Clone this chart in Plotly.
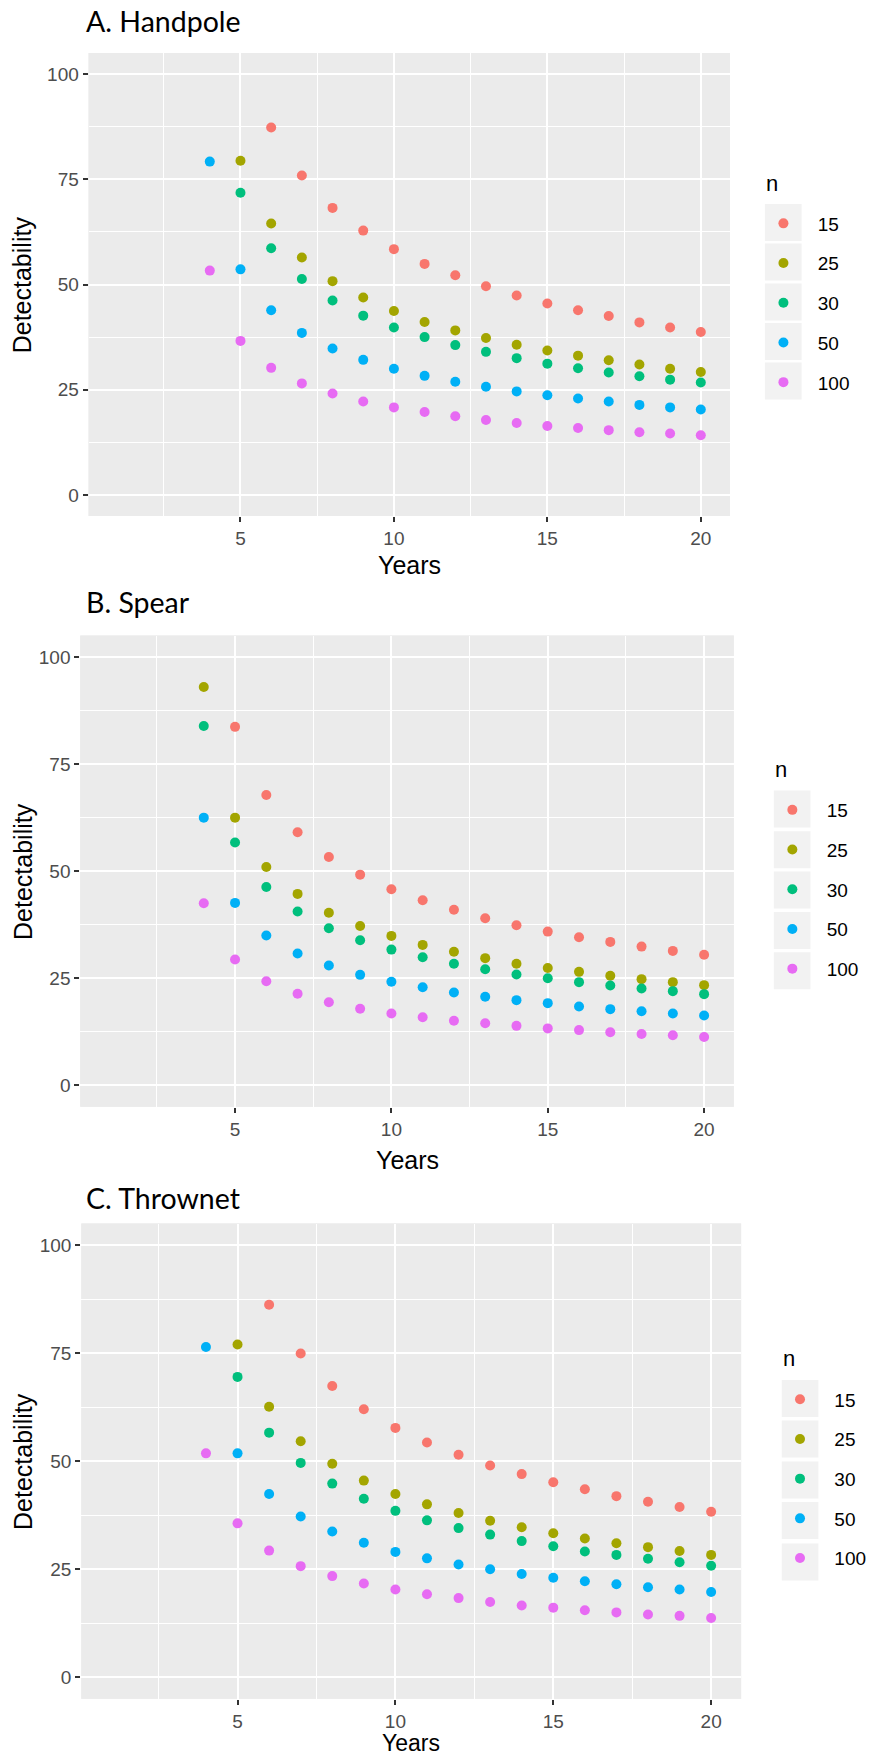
import plotly.graph_objects as go

W, H = 872, 1758

n_levels = ["15", "25", "30", "50", "100"]
colors = ["#F8766D", "#A3A500", "#00BF7D", "#00B0F6", "#E76BF3"]

# Detectability values, years 4..20 (None = no point)
years_obs = list(range(4, 21))

handpole_15 = [None, None, 87.3, 75.9, 68.2, 62.8, 58.4, 54.9, 52.2, 49.6, 47.4, 45.5, 43.9, 42.5, 41.0, 39.8, 38.7]
handpole_25 = [None, 79.4, 64.5, 56.4, 50.8, 46.9, 43.7, 41.1, 39.1, 37.3, 35.7, 34.3, 33.1, 32.0, 31.0, 30.0, 29.2]
handpole_30 = [None, 71.8, 58.6, 51.3, 46.2, 42.6, 39.8, 37.5, 35.6, 34.0, 32.5, 31.2, 30.1, 29.1, 28.2, 27.4, 26.7]
handpole_50 = [79.2, 53.6, 43.9, 38.5, 34.8, 32.1, 30.0, 28.3, 26.9, 25.7, 24.6, 23.7, 22.9, 22.2, 21.4, 20.8, 20.3]
handpole_100 = [53.3, 36.6, 30.2, 26.5, 24.1, 22.2, 20.8, 19.7, 18.7, 17.8, 17.1, 16.4, 15.9, 15.4, 14.9, 14.6, 14.2]

spear_15 = [None, 83.7, 67.8, 59.1, 53.3, 49.2, 45.8, 43.2, 41.0, 39.0, 37.4, 35.9, 34.6, 33.5, 32.4, 31.4, 30.5]
spear_25 = [93.0, 62.5, 51.0, 44.7, 40.3, 37.2, 34.9, 32.8, 31.2, 29.7, 28.4, 27.4, 26.5, 25.6, 24.8, 24.1, 23.4]
spear_30 = [83.9, 56.7, 46.3, 40.6, 36.7, 33.9, 31.7, 29.9, 28.4, 27.1, 25.9, 25.0, 24.1, 23.3, 22.6, 22.0, 21.3]
spear_50 = [62.5, 42.6, 35.0, 30.8, 28.0, 25.8, 24.2, 22.9, 21.7, 20.7, 19.9, 19.2, 18.4, 17.8, 17.3, 16.8, 16.3]
spear_100 = [42.5, 29.4, 24.3, 21.4, 19.4, 17.9, 16.8, 15.9, 15.1, 14.5, 13.9, 13.3, 12.9, 12.4, 12.0, 11.7, 11.3]

thrownet_15 = [None, None, 86.2, 74.9, 67.4, 62.0, 57.7, 54.3, 51.5, 49.0, 47.0, 45.1, 43.5, 41.9, 40.6, 39.4, 38.3]
thrownet_25 = [None, 77.0, 62.6, 54.6, 49.4, 45.5, 42.4, 40.0, 38.0, 36.2, 34.7, 33.3, 32.1, 31.0, 30.1, 29.2, 28.3]
thrownet_30 = [None, 69.5, 56.6, 49.6, 44.8, 41.3, 38.5, 36.3, 34.5, 33.0, 31.5, 30.3, 29.1, 28.3, 27.4, 26.6, 25.8]
thrownet_50 = [76.4, 51.8, 42.4, 37.2, 33.7, 31.1, 29.0, 27.5, 26.1, 25.0, 23.9, 23.0, 22.2, 21.5, 20.8, 20.3, 19.7]
thrownet_100 = [51.8, 35.6, 29.3, 25.7, 23.4, 21.7, 20.3, 19.2, 18.3, 17.4, 16.6, 16.1, 15.5, 15.0, 14.5, 14.2, 13.7]

panel_titles = ["A. Handpole", "B. Spear", "C. Thrownet"]
panel_series = [
    [handpole_15, handpole_25, handpole_30, handpole_50, handpole_100],
    [spear_15, spear_25, spear_30, spear_50, spear_100],
    [thrownet_15, thrownet_25, thrownet_30, thrownet_50, thrownet_100],
]
x_ticks = [5, 10, 15, 20]
y_ticks = [0, 25, 50, 75, 100]

# layout geometry in pixels: (left, right, top, bottom)
panels_px = [(89.4, 736.7, 53, 516), (81, 740.6, 635.6, 1106.8), (82, 748, 1223.5, 1698.8)]
title_px = [(85, 21), (85, 602), (85, 1198)]
years_y = [565, 1160, 1743]
years_size = [25, 25, 23]
# legend: key-box left, "n" centre y, key centres
legend_px = [(772, 183, [222.5, 262, 302, 341.5, 381]),
             (781, 769, [809, 849.7, 890, 930.6, 970.7]),
             (789, 1358, [1398.4, 1439, 1480, 1520.5, 1562])]

SANS = "Liberation Sans"

def px(x):
    return x / W

def py(y):
    return 1 - y / H

fig = go.Figure()
tick_font = dict(family=SANS, size=19, color="#4D4D4D")
shapes = []
annotations = []

for i, (title, series) in enumerate(zip(panel_titles, panel_series)):
    s = "" if i == 0 else str(i + 1)
    lg = "legend" if i == 0 else f"legend{i + 1}"
    for name, vals, col in zip(n_levels, series, colors):
        fig.add_trace(go.Scatter(
            x=years_obs, y=vals, mode="markers", name="\u2007\u2009" + name,
            marker=dict(color=col, size=10, line=dict(width=0)),
            xaxis="x" + s, yaxis="y" + s, legend=lg,
            legendgroup=f"{i}_{name}", showlegend=True,
        ))
    l, r, t, b = panels_px[i]
    common = dict(showline=False, zeroline=False, ticks="outside", ticklen=5,
                  tickwidth=2, tickcolor="#333333", tickfont=tick_font,
                  showgrid=True, gridcolor="white", gridwidth=2)
    fig.layout["xaxis" + s] = dict(
        domain=[px(l), px(r)], anchor="y" + s, range=[0.05, 20.95],
        tickmode="array", tickvals=x_ticks,
        minor=dict(tick0=0, dtick=2.5, showgrid=True, gridcolor="white", gridwidth=1, ticklen=0),
        **common)
    fig.layout["yaxis" + s] = dict(
        domain=[py(b), py(t)], anchor="x" + s, range=[-5, 105],
        tickmode="array", tickvals=y_ticks,
        minor=dict(tick0=0, dtick=12.5, showgrid=True, gridcolor="white", gridwidth=1, ticklen=0),
        **common)
    shapes.append(dict(type="rect", xref="paper", yref="paper", x0=px(l), x1=px(r), y0=py(b), y1=py(t),
                       fillcolor="#EBEBEB", line=dict(width=0), layer="below"))
    tx, ty = title_px[i]
    annotations.append(dict(text=title, x=px(tx), y=py(ty), xref="paper", yref="paper",
                            xanchor="left", yanchor="middle", showarrow=False,
                            font=dict(family="Lato", size=28.5, color="black")))
    annotations.append(dict(text="Years", x=px((l + r) / 2), y=py(years_y[i]), xref="paper", yref="paper",
                            xanchor="center", yanchor="middle", showarrow=False,
                            font=dict(family=SANS, size=years_size[i], color="black")))
    annotations.append(dict(text="Detectability", x=px(23), y=py((t + b) / 2), xref="paper", yref="paper",
                            xanchor="center", yanchor="middle", showarrow=False, textangle=-90,
                            font=dict(family=SANS, size=25, color="black")))
    kx, ny, centers = legend_px[i]
    annotations.append(dict(text="n", x=px(kx - 1), y=py(ny), xref="paper", yref="paper",
                            xanchor="left", yanchor="middle", showarrow=False,
                            font=dict(family=SANS, size=22, color="black")))
    for c in centers:
        shapes.append(dict(type="rect", xref="paper", yref="paper", x0=px(kx), x1=px(kx + 37),
                           y0=py(c + 18.5), y1=py(c - 18.5), fillcolor="#F2F2F2",
                           line=dict(width=0), layer="below"))
    fig.layout[lg] = dict(
        x=px(kx + 18.5 - 20), y=py(centers[0] - 18), xanchor="left", yanchor="top",
        font=dict(family=SANS, size=19, color="black"),
        bgcolor="rgba(0,0,0,0)", borderwidth=0,
        tracegroupgap=12, traceorder="grouped",
    )

fig.update_layout(
    width=W, height=H, margin=dict(l=0, r=0, t=0, b=0),
    paper_bgcolor="white", plot_bgcolor="#EBEBEB",
    shapes=shapes, annotations=annotations, showlegend=True,
)

fig.write_html("out.html")
